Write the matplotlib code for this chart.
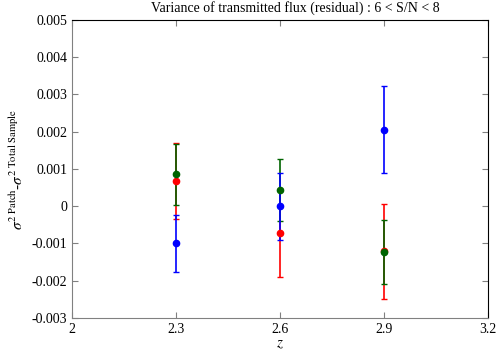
import numpy as np
import matplotlib
matplotlib.use('Agg')
import matplotlib.pyplot as plt

plt.rcParams['font.family'] = ['Liberation Serif', 'DejaVu Serif']
plt.rcParams['mathtext.fontset'] = 'stix'

# redshift bins
z = [2.3, 2.6, 2.9]

# variance differences and errors per series
red_vals = [0.00068, -0.00072, -0.00121]
red_errs = [0.00102, 0.00119, 0.00128]
green_vals = [0.00085, 0.00044, -0.00123]
green_errs = [0.00082, 0.00083, 0.00086]
blue_vals = [-0.00100, 0.00000, 0.00205]
blue_errs = [0.00076, 0.00090, 0.00117]

x_ticks = [2, 2.3, 2.6, 2.9, 3.2]
x_labels = ['2', '2.3', '2.6', '2.9', '3.2']
y_ticks = [-0.003, -0.002, -0.001, 0, 0.001, 0.002, 0.003, 0.004, 0.005]
y_labels = ['-0.003', '-0.002', '-0.001', '0', '0.001', '0.002', '0.003', '0.004', '0.005']

fig = plt.figure(figsize=(5, 3.5), dpi=100)
ax = fig.add_axes([0.144, 0.092, 0.832, 0.851])

for vals, errs, col in [(red_vals, red_errs, 'red'),
                        (green_vals, green_errs, '#006400'),
                        (blue_vals, blue_errs, 'blue')]:
    ax.errorbar(z, vals, yerr=errs, fmt='o', color=col, ecolor=col,
                markersize=4.5, elinewidth=1.2, capsize=2.5, capthick=1)

ax.set_xlim(2, 3.2)
ax.set_ylim(-0.003, 0.005)
ax.set_xticks(x_ticks)
ax.set_xticklabels(x_labels)
ax.set_yticks(y_ticks)
ax.set_yticklabels(y_labels)
ax.tick_params(direction='in', length=4, color='gray', labelsize=10,
               top=True, right=True)

for side in ['left', 'bottom']:
    ax.spines[side].set_color('gray')
for side in ['top', 'right']:
    ax.spines[side].set_color('black')

ax.set_xlabel(r'$z$', fontsize=11, labelpad=2)
ax.set_ylabel(r'$\sigma^{\mathrm{2\ Patch}}$-$\sigma^{\mathrm{2\ Total\ Sample}}$',
              fontsize=11)
ax.set_title('Variance of transmitted flux (residual) : 6 < S/N < 8',
             fontsize=10, x=0.536)

fig.savefig('out.png', dpi=100)
